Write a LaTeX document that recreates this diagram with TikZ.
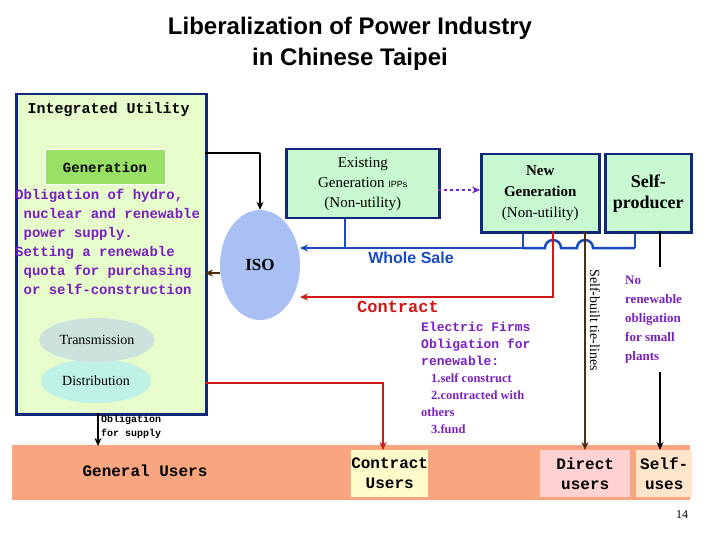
\documentclass[tikz,border=0pt]{standalone}
\usepackage{fontspec}
\setmainfont{Liberation Serif}
\newfontfamily\ar{Liberation Sans}
\newfontfamily\mo{Liberation Mono}
\usetikzlibrary{arrows.meta,shapes.geometric}
\definecolor{iu}{HTML}{E6FCCB}
\definecolor{gen}{HTML}{99E066}
\definecolor{bx}{HTML}{C8F8D0}
\definecolor{nb}{HTML}{10287A}
\definecolor{sal}{HTML}{F9A680}
\definecolor{pur}{HTML}{7A1FC0}
\definecolor{rd}{HTML}{D01818}
\definecolor{bl}{HTML}{1A4AC0}
\definecolor{br}{HTML}{4A3010}
\definecolor{isoc}{HTML}{A8C0F4}
\definecolor{trc}{HTML}{CDE2DC}
\definecolor{dic}{HTML}{BFF2E6}
\tikzset{
 box/.style={draw=nb,line width=2.5pt,fill=bx,align=center},
 mt/.style={font=\mo\bfseries\fontsize{14}{19}\selectfont,align=left},
 ar/.style={-{Stealth[length=8pt,width=7pt]}},
 ut/.style={font=\mo\bfseries\fontsize{16}{20}\selectfont,align=center},
}
\begin{document}
\begin{tikzpicture}[x=1pt,y=-1pt]
\useasboundingbox (0,0) rectangle (720,540);
\node[font=\ar\bfseries\fontsize{24}{31}\selectfont,align=center] (title) at (350,44) {Liberalization of Power Industry\\in Chinese Taipei};
% users bar
\node[fill=sal,minimum width=678,minimum height=55,anchor=north west] (gu) at (12,445) {};
\node[ut] (gut) at (145,471) {General Users};
\node[fill=yellow!20,minimum width=77,minimum height=47,anchor=north west] (cu) at (351,450) {};
\node[ut] (cut) at (cu) {Contract\\Users};
\node[fill=pink!70,minimum width=90,minimum height=47,anchor=north west] (du) at (540,450) {};
\node[ut] (dut) at (du) {Direct\\users};
\node[fill=orange!20,minimum width=56,minimum height=47,anchor=north west] (su) at (636,450) {};
\node[ut] (sut) at (su) {Self-\\uses};
% integrated utility
\node[draw=nb,line width=2.5pt,fill=iu,minimum width=190,minimum height=320,anchor=north west] (iu) at (15,93) {};
\node[font=\mo\bfseries\fontsize{15}{18}\selectfont,anchor=west] (iut) at (24,110) {Integrated Utility};
\node[fill=gen,draw=white,minimum width=120,minimum height=35,font=\mo\bfseries\fontsize{14}{18}\selectfont] (gn) at (105,167) {Generation};
\node[mt,text=pur,anchor=north west,inner sep=0] (ob) at (15,189) {Obligation of hydro,\\\ nuclear and renewable\\\ power supply.\\Setting a renewable\\\ quota for purchasing\\\ or self-construction};
\node[ellipse,fill=dic,minimum width=110,minimum height=44,font=\fontsize{14}{16}\selectfont] (di) at (96,381) {Distribution};
\node[ellipse,fill=trc,minimum width=110,minimum height=44,font=\fontsize{14}{16}\selectfont] (tr) at (97,340) {Transmission};
% ISO
\node[ellipse,fill=isoc,minimum width=80,minimum height=110,font=\bfseries\fontsize{17}{20}\selectfont] (iso) at (260,265) {ISO};
% generation boxes
\node[box,minimum width=153,minimum height=69,anchor=north west] (eg) at (285,148) {};
\node[align=center,font=\fontsize{15}{20}\selectfont] (egt) at (eg) {Existing\\Generation {\ar\fontsize{9}{10}\selectfont IPPs}\\(Non-utility)};
\node[box,minimum width=118,minimum height=78,anchor=north west] (ng) at (480,153) {};
\node[align=center,font=\fontsize{15}{21}\selectfont] (ngt) at (ng) {\textbf{New}\\\textbf{Generation}\\(Non-utility)};
\node[box,minimum width=86,minimum height=78,anchor=north west] (sp) at (604,153) {};
\node[align=center,font=\fontsize{18}{21}\selectfont] (spt) at (sp) {\textbf{Self-}\\\textbf{producer}};
% coordinates
\coordinate (b0) at (300,248);
\coordinate (bE) at (345,248);
\coordinate (bN) at (523,248);
\coordinate (bS) at (635,248);
% arrows
\draw[line width=2pt] (205,153) -- (260,153);
\draw[line width=1.2pt,ar] (260,153) -- (iso.north);
\draw[line width=2pt,br,ar] (220,273) -- (205,273);
\draw[bl,line width=2.5pt] (eg.south-|bE) -- (bE);
\draw[bl,line width=2.5pt] (ng.south-|bN) -- (bN);
\draw[bl,line width=2.5pt] (sp.south-|bS) -- (bS);
\draw[bl,line width=2.5pt,ar] (bN) -- (bE) -- (b0);
\draw[bl,line width=2.5pt] (bN) -- (545,248) arc[start angle=180,end angle=360,radius=8] -- (577,248) arc[start angle=180,end angle=360,radius=8] -- (bS);
\draw[rd,line width=2.5pt,ar] (553,231) -- (553,297) -- (300,297);
\draw[rd,line width=2.5pt,ar] (205,383) -- (383,383) -- (383,450);
\draw[pur,line width=2.5pt,dashed,ar] (438,190) -- (480,190);
\draw[br,line width=2pt,ar] (585,231) -- (585,450);
\draw[line width=2.5pt] (660,231) -- (660,267);
\draw[line width=2.5pt,ar] (660,372) -- (660,450);
\draw[line width=1.5pt,ar] (98,413) -- (98,446);
% labels
\node[font=\mo\bfseries\fontsize{10}{14}\selectfont,align=left,anchor=north west,inner sep=0] (os) at (101,415) {Obligation\\for supply};
\node[text=bl,font=\ar\bfseries\fontsize{16}{18}\selectfont] (ws) at (411,258) {Whole Sale};
\node[text=rd,font=\mo\bfseries\fontsize{17}{18}\selectfont] (ct) at (398,307) {Contract};
\node[text=pur,font=\bfseries\fontsize{12.5}{17}\selectfont,align=left,anchor=north west,inner sep=0] (ef) at (421,322) {{\mo\fontsize{13}{17}\selectfont Electric Firms}\\{\mo\fontsize{13}{17}\selectfont Obligation for}\\{\mo\fontsize{13}{17}\selectfont renewable:}\\\hspace*{10pt}1.self construct\\\hspace*{10pt}2.contracted with\\others\\\hspace*{10pt}3.fund};
\node[rotate=-90,font=\fontsize{14}{16}\selectfont] (sb) at (595,320) {Self-built tie-lines};
\node[text=pur,font=\bfseries\fontsize{13}{19}\selectfont,align=left,anchor=north west,inner sep=0] (nrn) at (625,276) {No\\renewable\\obligation\\for small\\plants};
\node[font=\fontsize{12}{14}\selectfont] (pg) at (682,515) {14};
\end{tikzpicture}
\end{document}
